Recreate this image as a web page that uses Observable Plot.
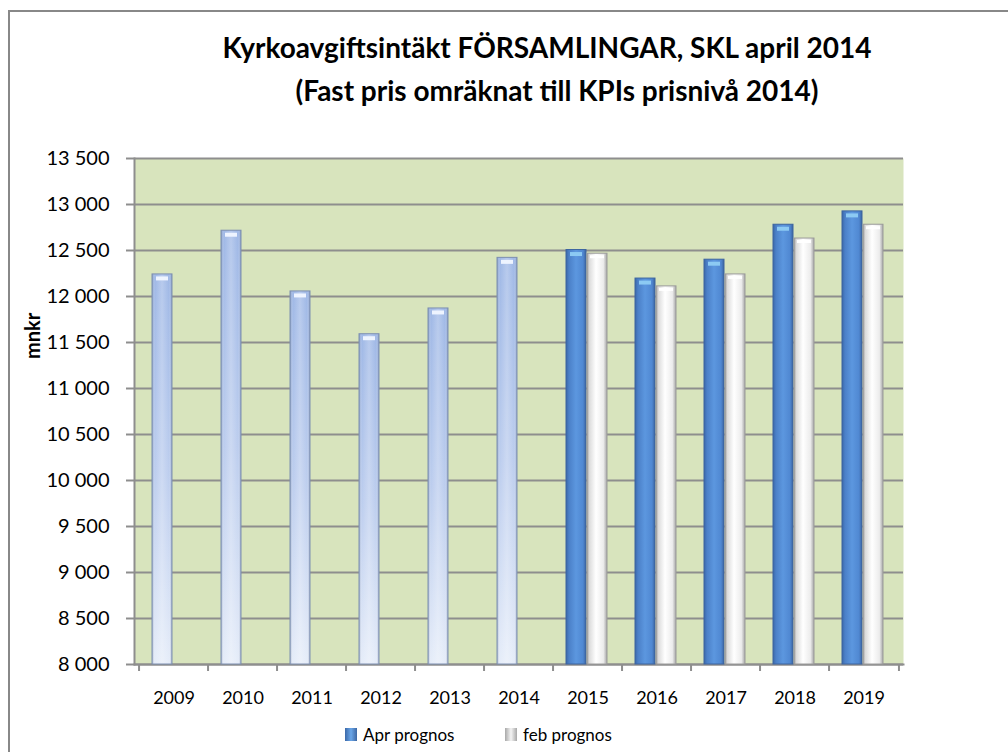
<!DOCTYPE html>
<html>
<head>
<meta charset="utf-8">
<script src="https://cdn.jsdelivr.net/npm/d3@7"></script>
<script src="https://cdn.jsdelivr.net/npm/@observablehq/plot@0.6"></script>
<style>
  html, body { margin: 0; padding: 0; background: #fff; width: 1008px; height: 752px; overflow: hidden; }
  body { position: relative; font-family: Lato, "Open Sans", sans-serif; color: #000; }
  #border { position: absolute; left: 8px; top: 10px; width: 1100px; height: 900px; border: 2px solid #888; box-sizing: border-box; }
  #title { position: absolute; left: 347px; width: 400px; top: 26px; text-align: center; font-weight: bold; font-size: 28px; line-height: 43px; white-space: nowrap; }
  #title div { margin-left: -200px; margin-right: -200px; }
  #title div.l2 { position: relative; left: 10px; }
  #chart { position: absolute; left: 0; top: 140px; }
  #ylab { position: absolute; left: 32px; top: 336px; transform: translate(-50%, -50%) rotate(-90deg); font-weight: bold; font-size: 20px; white-space: nowrap; }
  #legend { position: absolute; top: 724px; left: 0; width: 1008px; font-size: 17px; }
  .li { position: absolute; display: flex; align-items: center; gap: 6px; white-space: nowrap; }
  .sw { width: 12px; height: 13px; display: inline-block; }
</style>
</head>
<body>
<div id="border"></div>
<div id="title"><div>Kyrkoavgiftsintäkt  FÖRSAMLINGAR, SKL april 2014</div><div class="l2">(Fast pris omräknat till KPIs prisnivå 2014)</div></div>
<div id="chart"></div>
<div id="ylab">mnkr</div>
<div id="legend">
  <div class="li" style="left:345px"><span class="sw" style="background:linear-gradient(90deg,#3b68a8,#6aa6e8 50%,#3d67a3);"></span><span>Apr prognos</span></div>
  <div class="li" style="left:505px"><span class="sw" style="background:linear-gradient(90deg,#a8a8a8,#f4f4f4 50%,#a8a8a8);"></span><span>feb prognos</span></div>
</div>
<script>
// ---- data ----
const years = ["2009","2010","2011","2012","2013","2014","2015","2016","2017","2018","2019"];
const aprPrognos = [12240, 12715, 12055, 11590, 11870, 12420, 12505, 12195, 12400, 12780, 12925];
const febPrognos = [null, null, null, null, null, null, 12465, 12110, 12240, 12630, 12780];
const outcomeYears = ["2009","2010","2011","2012","2013","2014"];
const yTicks = [8000, 8500, 9000, 9500, 10000, 10500, 11000, 11500, 12000, 12500, 13000, 13500];
const yMin = 8000, yMax = 13500;

const rows = years.map((year, i) => ({year, apr: aprPrognos[i], feb: febPrognos[i], outcome: outcomeYears.includes(year)}));
const histRows = rows.filter(d => d.outcome);
const fcRows = rows.filter(d => !d.outcome);
const febRows = rows.filter(d => d.feb != null);

const fmt = d => d3.format(",")(d).replace(/,/g, " ");

const W = 1008, H = 612;
const mL = 134, mR = 105, mT = 18, mB = 88;
const bw = (W - mL - mR) / years.length;

const aprIns = {insetLeft: 13, insetRight: 36};
const febIns = {insetLeft: 34, insetRight: 15};

const chart = Plot.plot({
  width: W, height: H,
  marginLeft: mL, marginRight: mR, marginTop: mT, marginBottom: mB,
  style: {fontFamily: "Lato, 'Open Sans', sans-serif", fontSize: "18px", color: "#000", background: "transparent", overflow: "visible"},
  x: {domain: years, padding: 0, axis: null},
  y: {domain: [yMin, yMax], axis: null},
  marks: [
    Plot.frame({fill: "#d8e4bd", stroke: null}),
    Plot.ruleY(yTicks, {stroke: "#8e8e8e", strokeWidth: 2}),
    Plot.frame({anchor: "left", stroke: "#8e8e8e", strokeWidth: 2}),
    Plot.frame({anchor: "bottom", stroke: "#8e8e8e", strokeWidth: 2}),
    Plot.axisY({ticks: yTicks, tickFormat: fmt, tickSize: 8, tickPadding: 17, stroke: "#8e8e8e", strokeWidth: 2, label: null, fontSize: 20}),
    Plot.axisX({tickSize: 0, tickPadding: 27, label: null, fontSize: 18}),
    Plot.axisX({tickSize: 7, text: null, dx: -bw / 2, stroke: "#8e8e8e", strokeWidth: 2, label: null}),
    Plot.axisX({ticks: [years[years.length - 1]], tickSize: 7, text: null, dx: bw / 2, stroke: "#8e8e8e", strokeWidth: 2, label: null}),
    // outcome bars (Apr series, lighter style)
    Plot.barY(histRows, {x: "year", y1: yMin, y2: "apr", fill: "url(#histV)", ...aprIns}),
    Plot.barY(histRows, {x: "year", y1: yMin, y2: "apr", fill: "url(#histH)", stroke: "#7d8fb0", strokeWidth: 1, ...aprIns}),
    Plot.tickY(histRows, {x: "year", y: "apr", stroke: "#eef4ff", strokeWidth: 4, dy: 4, insetLeft: 17, insetRight: 40}),
    // Apr forecast bars
    Plot.barY(fcRows, {x: "year", y1: yMin, y2: "apr", fill: "url(#aprH)", stroke: "#3c64a0", strokeWidth: 1, ...aprIns}),
    Plot.tickY(fcRows, {x: "year", y: "apr", stroke: "#8ccaf3", strokeWidth: 4, dy: 4, insetLeft: 17, insetRight: 40}),
    // feb forecast bars
    Plot.barY(febRows, {x: "year", y1: yMin, y2: "feb", fill: "url(#febH)", stroke: "#9a9a9a", strokeWidth: 1, ...febIns}),
    Plot.tickY(febRows, {x: "year", y: "feb", stroke: "#ffffff", strokeWidth: 3, dy: 3, insetLeft: 37, insetRight: 18})
  ]
});

const defs = `
<linearGradient id="aprH" x1="0" x2="1" y1="0" y2="0">
  <stop offset="0" stop-color="#3a67a8"/><stop offset="0.15" stop-color="#4b80c8"/>
  <stop offset="0.5" stop-color="#5c97df"/><stop offset="0.85" stop-color="#5088d2"/>
  <stop offset="1" stop-color="#3b64a0"/>
</linearGradient>
<linearGradient id="histV" x1="0" x2="0" y1="0" y2="1">
  <stop offset="0" stop-color="#9fb8e6"/><stop offset="0.5" stop-color="#bccdee"/>
  <stop offset="1" stop-color="#e6edf9"/>
</linearGradient>
<linearGradient id="histH" x1="0" x2="1" y1="0" y2="0">
  <stop offset="0" stop-color="#5a6e96" stop-opacity="0.55"/><stop offset="0.15" stop-color="#ffffff" stop-opacity="0"/>
  <stop offset="0.5" stop-color="#ffffff" stop-opacity="0.25"/><stop offset="0.85" stop-color="#ffffff" stop-opacity="0"/>
  <stop offset="1" stop-color="#5a6e96" stop-opacity="0.55"/>
</linearGradient>
<linearGradient id="febH" x1="0" x2="1" y1="0" y2="0">
  <stop offset="0" stop-color="#a0a0a0"/><stop offset="0.12" stop-color="#dcdcdc"/>
  <stop offset="0.45" stop-color="#ffffff"/><stop offset="0.82" stop-color="#ececec"/>
  <stop offset="1" stop-color="#a6a6a6"/>
</linearGradient>`;
const svgNS = "http://www.w3.org/2000/svg";
const d = document.createElementNS(svgNS, "defs");
d.innerHTML = defs;
chart.insertBefore(d, chart.firstChild);
document.getElementById("chart").appendChild(chart);
</script>
</body>
</html>
